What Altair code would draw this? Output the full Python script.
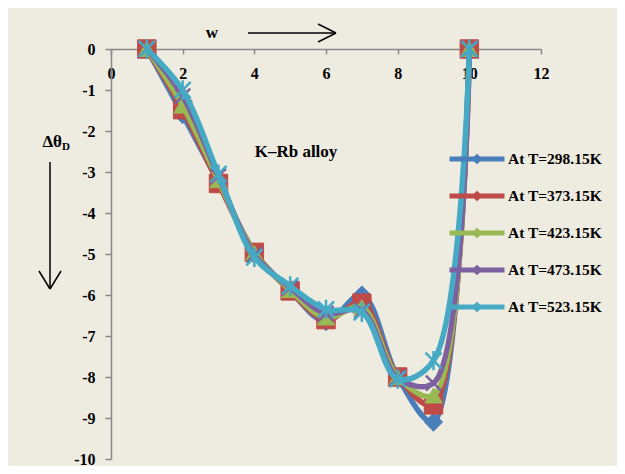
import altair as alt
import pandas as pd

# ---- data ----
w_values = [1, 2, 3, 4, 5, 6, 7, 8, 9, 10]
series_names = ["At T=298.15K", "At T=373.15K", "At T=423.15K", "At T=473.15K", "At T=523.15K"]
t298 = [0, -1.60, -3.25, -4.95, -5.90, -6.65, -6.00, -8.00, -9.10, 0]
t373 = [0, -1.48, -3.28, -4.96, -5.90, -6.60, -6.20, -8.00, -8.68, 0]
t423 = [0, -1.38, -3.20, -4.98, -5.88, -6.55, -6.30, -8.00, -8.45, 0]
t473 = [0, -1.15, -3.10, -5.02, -5.82, -6.45, -6.38, -8.02, -8.15, 0]
t523 = [0, -1.00, -3.05, -5.08, -5.78, -6.35, -6.42, -8.05, -7.60, 0]
all_series = [t298, t373, t423, t473, t523]

x_ticks = [0, 2, 4, 6, 8, 10, 12]
y_ticks = [-10, -9, -8, -7, -6, -5, -4, -3, -2, -1, 0]

colors = ["#4A7EBB", "#BE4B48", "#98B954", "#7D60A0", "#46AAC5"]
shapes = [
    "diamond",
    "square",
    "triangle-up",
    "M-1,-1L1,1M-1,1L1,-1",
    "M-1,-1L1,1M-1,1L1,-1M0,-1.2L0,1.2",
]
filled = [True, True, True, False, False]
sizes = [330, 340, 300, 230, 260]

rows = []
for name, vals in zip(series_names, all_series):
    for w, v in zip(w_values, vals):
        rows.append({"series": name, "w": w, "dtheta": v})
df = pd.DataFrame(rows)

SERIF = "Liberation Serif"
W, H = 430, 410

x_enc = alt.X(
    "w:Q",
    scale=alt.Scale(domain=[0, 12], nice=False, zero=False),
    axis=alt.Axis(
        orient="bottom", offset=-H, values=x_ticks, title=None, grid=False,
        labelFont=SERIF, labelFontWeight="bold", labelFontSize=16, labelColor="black",
        labelPadding=11, tickSize=5, tickColor="#888888", domainColor="#888888",
        domainWidth=1.5, tickWidth=1.5, labelFlush=False, labelOverlap=False,
    ),
)
y_enc = alt.Y(
    "dtheta:Q",
    scale=alt.Scale(domain=[-10, 0], nice=False, zero=False),
    axis=alt.Axis(
        values=y_ticks, title=None, grid=False,
        labelExpr="datum.value == 0 ? '0' : '-' + abs(datum.value)",
        labelFont=SERIF, labelFontWeight="bold", labelFontSize=16, labelColor="black",
        labelPadding=10, tickSize=6, tickColor="#888888", domainColor="#888888",
        domainWidth=1.5, tickWidth=1.5, labelFlush=False, labelOverlap=False,
    ),
)

legend_def = alt.Legend(
    title=None, orient="none", legendX=354, legendY=98, padding=0,
    symbolType="M-3,0H3M-0.22,0L0,-0.2L0.22,0L0,0.2Z",
    symbolSize=336, symbolStrokeWidth=5, symbolFillColor="transparent",
    labelFont=SERIF, labelFontWeight="bold", labelFontSize=15.5, labelColor="black",
    labelOffset=19, rowPadding=13, labelLimit=300,
)

layers = []
for i, name in enumerate(series_names):
    base = alt.Chart(df).transform_filter(alt.datum.series == name)
    line = base.mark_line(interpolate="catmull-rom", strokeWidth=5.5).encode(
        x=x_enc, y=y_enc,
        color=alt.Color("series:N", scale=alt.Scale(domain=series_names, range=colors), legend=legend_def),
    )
    if filled[i]:
        pt = base.mark_point(shape=shapes[i], size=sizes[i], filled=True, fill=colors[i],
                             stroke=colors[i], strokeWidth=1, opacity=1)
    else:
        pt = base.mark_point(shape=shapes[i], size=sizes[i], filled=False, stroke=colors[i],
                             strokeWidth=2.5, opacity=1)
    layers += [line, pt.encode(x=x_enc, y=y_enc)]

one = pd.DataFrame({"a": [0]})

ann_text = ["w", "K\u2013Rb alloy", "\u0394\u03b8", "D"]
texts = [
    alt.Chart(one).mark_text(font=SERIF, fontWeight="bold", fontSize=17, color="black").encode(
        x=alt.value(101), y=alt.value(-16), text=alt.value(ann_text[0])),
    alt.Chart(one).mark_text(font=SERIF, fontWeight="bold", fontSize=17, color="black").encode(
        x=alt.value(185), y=alt.value(103), text=alt.value(ann_text[1])),
    alt.Chart(one).mark_text(font=SERIF, fontWeight="bold", fontSize=17, color="black", align="right").encode(
        x=alt.value(-49), y=alt.value(93), text=alt.value(ann_text[2])),
    alt.Chart(one).mark_text(font=SERIF, fontWeight="bold", fontSize=11, color="black", align="left").encode(
        x=alt.value(-49), y=alt.value(98), text=alt.value(ann_text[3])),
]

def seg(x1, y1, x2, y2):
    return alt.Chart(one).mark_rule(color="black", strokeWidth=1.5).encode(
        x=alt.value(x1), y=alt.value(y1), x2=alt.value(x2), y2=alt.value(y2))

arrows = [
    seg(137, -16, 224, -16), seg(207, -25, 225, -16), seg(207, -7, 225, -16),
    seg(-61, 113, -61, 239), seg(-72, 222, -61, 240), seg(-50, 222, -61, 240),
]

chart = alt.layer(*layers, *texts, *arrows).properties(
    width=W, height=H,
    autosize=alt.AutoSizeParams(type="none"),
    padding={"left": 103, "top": 41, "right": 76, "bottom": 7},
    background="#EEEBE1",
).configure_view(stroke=None)

chart.save("out.html", embed_options={"renderer": "svg", "actions": False})
